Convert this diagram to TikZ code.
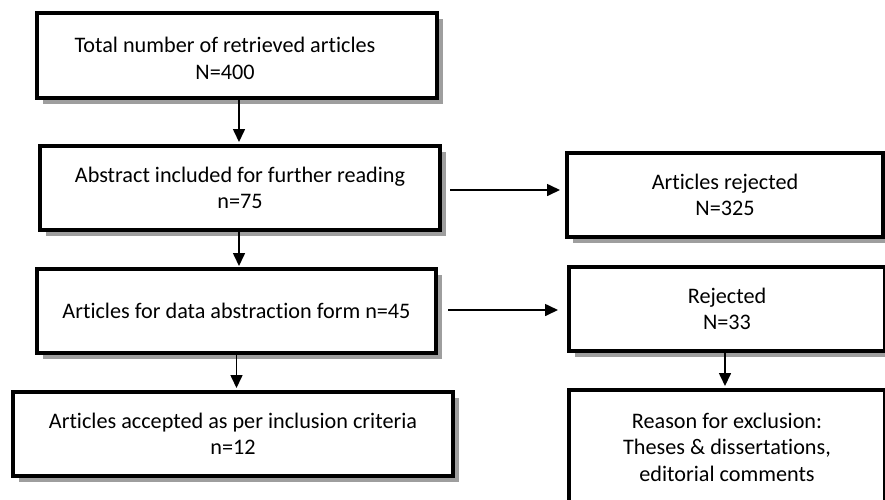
\documentclass[tikz,border=0pt]{standalone}
\usepackage{fontspec}
\setmainfont{Carlito}[Ligatures=NoCommon]
\usetikzlibrary{arrows.meta,shadows,calc}
\begin{document}
\begin{tikzpicture}[x=1pt,y=-1pt,
  txt/.style={align=center,font=\fontsize{22.2}{26.5}\selectfont},
  box/.style={txt,draw=black,line width=4pt,fill=white,rectangle,inner sep=0pt,
    minimum height=84pt,
    drop shadow={shadow xshift=6pt,shadow yshift=-6pt,fill=black!38,opacity=1}},
  arr/.style={line width=1.6pt,-{Triangle[width=12pt,length=13pt]}}]
\useasboundingbox (0,0) rectangle (885,499);
\clip (0,0) rectangle (885,499);
\fill[white] (0,0) rectangle (885,499);
% left column
\node[box,minimum width=400pt,minimum height=85pt,
  label={[txt,xshift=-12pt,yshift=-3pt]center:Total number of retrieved articles\\N=400}]
  (b1) at (237,55.5) {};
\node[box,minimum width=400pt] (b2) at (240,188) {Abstract included for further reading\\n=75};
\node[box,minimum width=399pt] (b3) at (236.5,311) {Articles for data abstraction form n=45};
\node[box,minimum width=440pt] (b4) at (233,434) {Articles accepted as per inclusion criteria\\n=12};
% right column
\node[box,minimum width=316pt] (r1) at (725,195) {Articles rejected\\N=325};
\node[box,minimum width=316pt] (r2) at (727,309) {Rejected\\N=33};
\node[box,minimum width=316pt,minimum height=114pt] (r3) at (727,447) {};
\node[txt] (r3t) at (727,447)
  {Reason for exclusion:\\Theses \& dissertations,\\editorial comments};
% connectors
\draw[arr] ($(b1.south)+(2,0)$) -- ($(b1.south |- b2.north)+(2,-2)$);
\draw[arr] ($(b2.south)+(-1,0)$) -- ($(b2.south |- b3.north)+(-1,-1)$);
\draw[arr] (b3.south) -- ($(b3.south |- b4.north)+(0,-2)$);
\draw[arr] ($(b2.east)+(8,2)$) -- ($(b2.east -| r1.west)+(-5,2)$);
\draw[arr] ($(b3.east)+(10,-1)$) -- ($(b3.east -| r2.west)+(-9,-1)$);
\draw[arr] ($(r2.south)+(-2,-4)$) -- ($(r2.south |- r3.north)+(-2,-2)$);
\end{tikzpicture}
\end{document}
